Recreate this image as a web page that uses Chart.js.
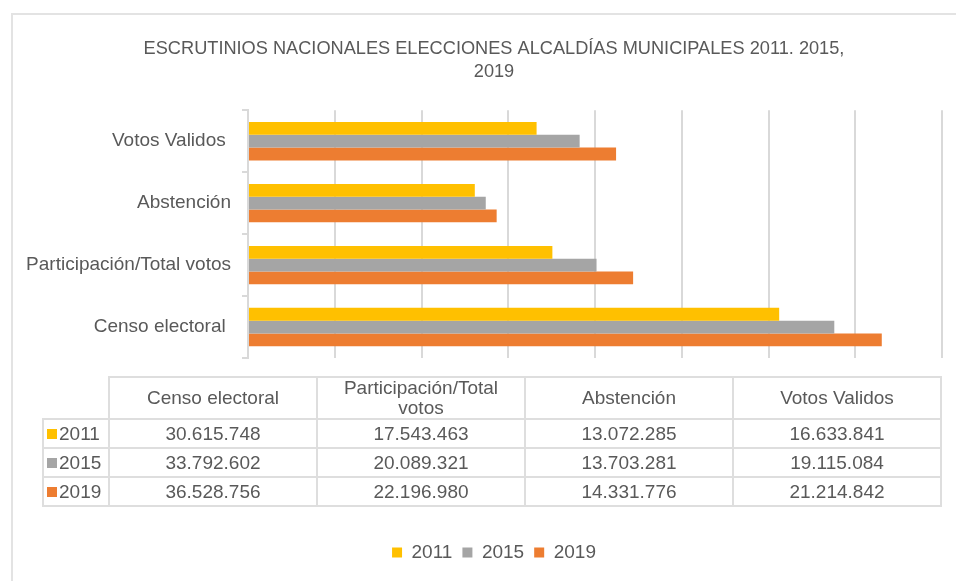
<!DOCTYPE html>
<html lang="es">
<head>
<meta charset="utf-8">
<title>Escrutinios nacionales</title>
<script src="https://cdn.jsdelivr.net/npm/chart.js@4.4.1/dist/chart.umd.min.js"></script>
<style>
  html, body { margin: 0; padding: 0; background: #fff; overflow: hidden; }
  body { width: 956px; height: 581px; position: relative; font-family: "Liberation Sans", Arial, sans-serif; color: #595959; }
  #frame { position: absolute; left: 11px; top: 13px; width: 1000px; height: 1000px; border: 2px solid #e3e3e3; box-sizing: border-box; }
  #wrap { position: absolute; left: 0; top: 0; width: 956px; height: 581px; }
  #tabla { position: absolute; left: 42px; top: 376px; border-collapse: collapse; font-size: 19px; color: #595959; table-layout: fixed; }
  #tabla td, #tabla th { border: 2px solid #dedede; text-align: center; font-weight: normal; padding: 0 10px; }
  #tabla th { height: 40px; line-height: 20px; }
  #tabla td { height: 27px; line-height: 20px; }
  #tabla th.vacia { border: none; }
  #tabla td.serie { text-align: left; padding-left: 3px; padding-right: 0; white-space: nowrap; }
  .clave { display: inline-block; width: 10px; height: 10px; margin-right: 2px; vertical-align: 1px; }
</style>
</head>
<body>
<div id="frame"></div>
<div id="wrap"><canvas id="grafico" width="956" height="581"></canvas></div>
<table id="tabla"></table>
<script>
const categories = ['Censo electoral ', 'Participación/Total votos', 'Abstención', 'Votos Validos '];
const years = ['2011', '2015', '2019'];
const votes2011 = [30615748, 17543463, 13072285, 16633841];
const votes2015 = [33792602, 20089321, 13703281, 19115084];
const votes2019 = [36528756, 22196980, 14331776, 21214842];
const colors = ['#FFC000', '#A5A5A5', '#ED7D31'];

const series = [votes2011, votes2015, votes2019];
const gris = '#595959';
const linea = '#d9d9d9';

// numeros con punto de miles
function fmt(n) {
  return String(n).replace(/\B(?=(\d{3})+(?!\d))/g, '.');
}

// tabla de datos debajo del grafico
const tabla = document.getElementById('tabla');
let html = '<colgroup><col style="width:66px">';
categories.forEach(() => { html += '<col style="width:208px">'; });
html += '</colgroup><tr><th class="vacia"></th>';
categories.forEach(c => { html += '<th>' + c.trim() + '</th>'; });
html += '</tr>';
years.forEach((y, i) => {
  html += '<tr><td class="serie"><span class="clave" style="background:' + colors[i] + '"></span>' + y + '</td>';
  series[i].forEach(v => { html += '<td>' + fmt(v) + '</td>'; });
  html += '</tr>';
});
tabla.innerHTML = html;

// titulo y leyenda centrados como en excel (un poco a la derecha)
const centrarCajas = {
  id: 'centrarCajas',
  afterLayout(chart) {
    [chart.titleBlock, chart.legend].forEach(b => {
      b.left = 46;
      b.width = b.right - b.left;
    });
    chart.legend.adjustHitBoxes();
  }
};

const ctx = document.getElementById('grafico');

new Chart(ctx, {
  type: 'bar',
  data: {
    labels: categories,
    datasets: years.map((y, i) => ({
      label: y,
      data: series[i],
      backgroundColor: colors[i],
      borderWidth: 0,
      barPercentage: 1,
      categoryPercentage: 0.62
    }))
  },
  options: {
    indexAxis: 'y',
    responsive: false,
    animation: false,
    layout: { padding: { left: 22, right: 14, top: 20, bottom: 9 } },
    scales: {
      x: {
        min: 0,
        max: 40000000,
        ticks: { display: false, stepSize: 5000000 },
        grid: { color: linea, lineWidth: 2, drawTicks: false },
        border: { display: false },
        afterFit: (scale) => { scale.height = 175; }
      },
      y: {
        reverse: true,
        ticks: { color: gris, font: { family: 'Liberation Sans', size: 19 }, padding: 11 },
        grid: { drawOnChartArea: false, color: linea, tickLength: 6, lineWidth: 2 },
        border: { color: linea, width: 2 },
        afterFit: (scale) => { scale.width = 226; }
      }
    },
    plugins: {
      title: {
        display: true,
        text: ['ESCRUTINIOS NACIONALES ELECCIONES ALCALDÍAS MUNICIPALES 2011. 2015,', '2019'],
        color: gris,
        font: { family: 'Liberation Sans', size: 18.2, weight: 'normal', lineHeight: 1.27 },
        padding: { top: 17, bottom: 27 }
      },
      legend: {
        position: 'bottom',
        labels: {
          color: gris,
          font: { family: 'Liberation Sans', size: 19 },
          boxWidth: 10,
          boxHeight: 10,
          padding: 10
        }
      },
      tooltip: { enabled: false }
    }
  },
  plugins: [centrarCajas]
});
</script>
</body>
</html>
